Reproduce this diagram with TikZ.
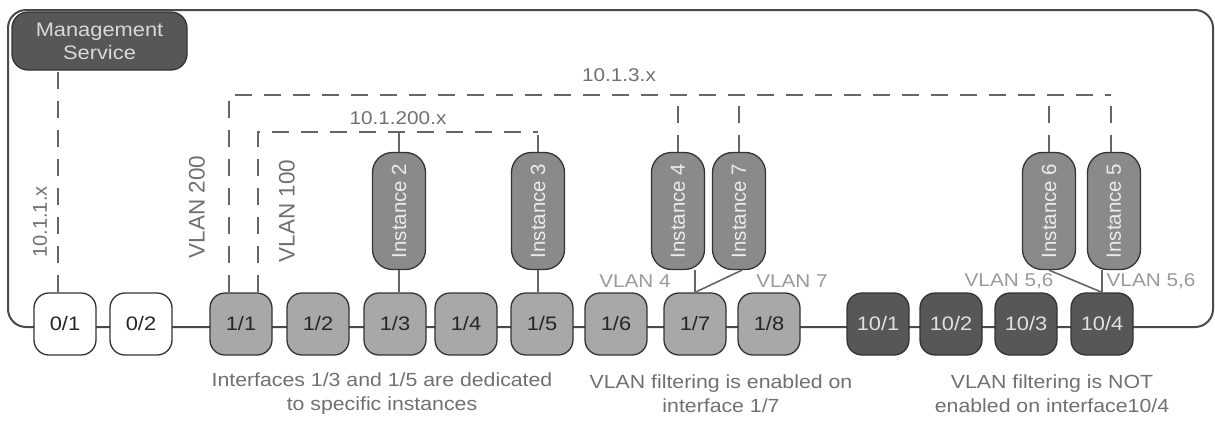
\documentclass[tikz,border=0pt]{standalone}
\usepackage{fontspec}
\setmainfont{Liberation Sans}
\newfontfamily\widefont{Liberation Sans}[FakeStretch=1.12]
\usetikzlibrary{calc}
\definecolor{framec}{HTML}{4A4A4A}
\definecolor{linec}{HTML}{666666}
\definecolor{lightbox}{HTML}{A8A8A8}
\definecolor{darkbox}{HTML}{575757}
\definecolor{instbox}{HTML}{8A8A8A}
\definecolor{bordc}{HTML}{333333}
\definecolor{labc}{HTML}{707070}
\definecolor{vlabc}{HTML}{9A9A9A}
\tikzset{
  iface/.style={draw=bordc, line width=1.3pt, rounded corners=15pt, minimum width=62pt, minimum height=62pt, inner sep=0pt, font=\widefont\fontsize{19.5}{22}\selectfont},
  wbox/.style={iface, fill=white, text=black!85},
  lbox/.style={iface, fill=lightbox, text=black!85},
  dbox/.style={iface, fill=darkbox, text=white!88!black},
  inst/.style={draw=bordc, line width=1.3pt, rounded corners=20pt, fill=instbox, minimum width=53pt, minimum height=117pt, inner sep=0pt, text=white!92!black, font=\fontsize{20.5}{24}\selectfont},
  dsh/.style={draw=linec, line width=2pt, dash pattern=on 17pt off 12pt},
  sol/.style={draw=linec, line width=1.6pt},
  lab/.style={text=labc, font=\widefont\fontsize{18.5}{21}\selectfont, inner sep=0pt},
  vlab/.style={text=vlabc, font=\widefont\fontsize{18.5}{21}\selectfont, inner sep=0pt},
  rlab/.style={text=labc, inner sep=0pt},
  note/.style={text=labc, align=center, font=\widefont\fontsize{19}{24}\selectfont, inner sep=0pt}
}
\begin{document}
\begin{tikzpicture}[x=1pt,y=-1pt]
\useasboundingbox (0,0) rectangle (1215,429);
% outer frame (its bottom edge is the interface chain)
\draw[framec, line width=2pt, rounded corners=18pt] (8,10) rectangle (1213,327);
% management service
\node[draw=bordc, line width=1.3pt, rounded corners=16pt, fill=darkbox, minimum width=175pt, minimum height=58pt, align=center, text=white!85!black, font=\widefont\fontsize{19.5}{23}\selectfont] (ms) at (99.5,41) {Management\\Service};
% interfaces
\node[wbox] (n01) at (65,324) {0/1};
\node[wbox] (n02) at (141,324) {0/2};
\node[lbox] (n11) at (241,324) {1/1};
\node[lbox] (n12) at (318,324) {1/2};
\node[lbox] (n13) at (395,324) {1/3};
\node[lbox] (n14) at (466,324) {1/4};
\node[lbox] (n15) at (542,324) {1/5};
\node[lbox] (n16) at (616,324) {1/6};
\node[lbox] (n17) at (695,324) {1/7};
\node[lbox] (n18) at (769,324) {1/8};
\node[dbox] (n101) at (878,324) {10/1};
\node[dbox] (n102) at (951,324) {10/2};
\node[dbox] (n103) at (1026,324) {10/3};
\node[dbox] (n104) at (1102,324) {10/4};
% instances
\node[inst] (i2) at (399,211) {\rotatebox{90}{Instance 2}};
\node[inst] (i3) at (538,211) {\rotatebox{90}{Instance 3}};
\node[inst] (i4) at (678,211) {\rotatebox{90}{Instance 4}};
\node[inst] (i7) at (739,211) {\rotatebox{90}{Instance 7}};
\node[inst] (i6) at (1049,211) {\rotatebox{90}{Instance 6}};
\node[inst] (i5) at (1114,211) {\rotatebox{90}{Instance 5}};
% dashed network lines
\coordinate (top200) at (0,95);
\coordinate (top100) at (0,132);
\draw[dsh] ([xshift=-7pt]n01.north) -- ([xshift=-7pt]n01.north |- ms.south);
\draw[dsh] ([xshift=-12pt]n11.north) |- ([xshift=-3pt]i5.north |- top200);
\draw[dsh] ([xshift=17pt]n11.north) |- (i3.north |- top100);
\draw[dsh] ([xshift=-3pt]i5.north) -- ([xshift=-3pt]i5.north |- top200);
\draw[dsh] (i4.north) -- (i4.north |- top200);
\draw[dsh] (i7.north) -- (i7.north |- top200);
\draw[dsh] (i6.north) -- (i6.north |- top200);
\draw[dsh] (i3.north) -- (i3.north |- top100);
\draw[sol] (i2.north) -- (i2.north |- top100);
% instance to interface links
\draw[sol] (i2.south) -- (i2.south |- n13.north);
\draw[sol] (i3.south) -- (i3.south |- n15.north);
\draw[sol] (n17.north) -- (n17.north |- i4.south);
\draw[sol] ([xshift=3pt]i7.south) -- (n17.north);
\draw[sol] (i6.south) -- (n104.north);
\draw[sol] (n104.north) -- (n104.north |- i5.south);
% labels
\node[rlab, rotate=90, font=\fontsize{20}{24}\selectfont] (l1) at (40,222) {10.1.1.x};
\node[rlab, rotate=90, font=\fontsize{22.5}{26}\selectfont] (l200) at (197,207) {VLAN 200};
\node[rlab, rotate=90, font=\fontsize{22.5}{26}\selectfont] (l100) at (287,211) {VLAN 100};
\node[lab] (la) at (398,118) {10.1.200.x};
\node[lab] (lb) at (619,75) {10.1.3.x};
\node[vlab] (v4) at (635,281) {VLAN 4};
\node[vlab] (v7) at (792,281) {VLAN 7};
\node[vlab] (v56a) at (1009,281) {VLAN 5,6};
\node[vlab] (v56b) at (1151,281) {VLAN 5,6};
% notes
\node[note] (t1) at (382,394) {Interfaces 1/3 and 1/5 are dedicated\\to specific instances};
\node[note] (t2) at (721,394) {VLAN filtering is enabled on\\interface 1/7};
\node[note] (t3) at (1052,394) {VLAN filtering is NOT\\enabled on interface10/4};
\end{tikzpicture}
\end{document}
